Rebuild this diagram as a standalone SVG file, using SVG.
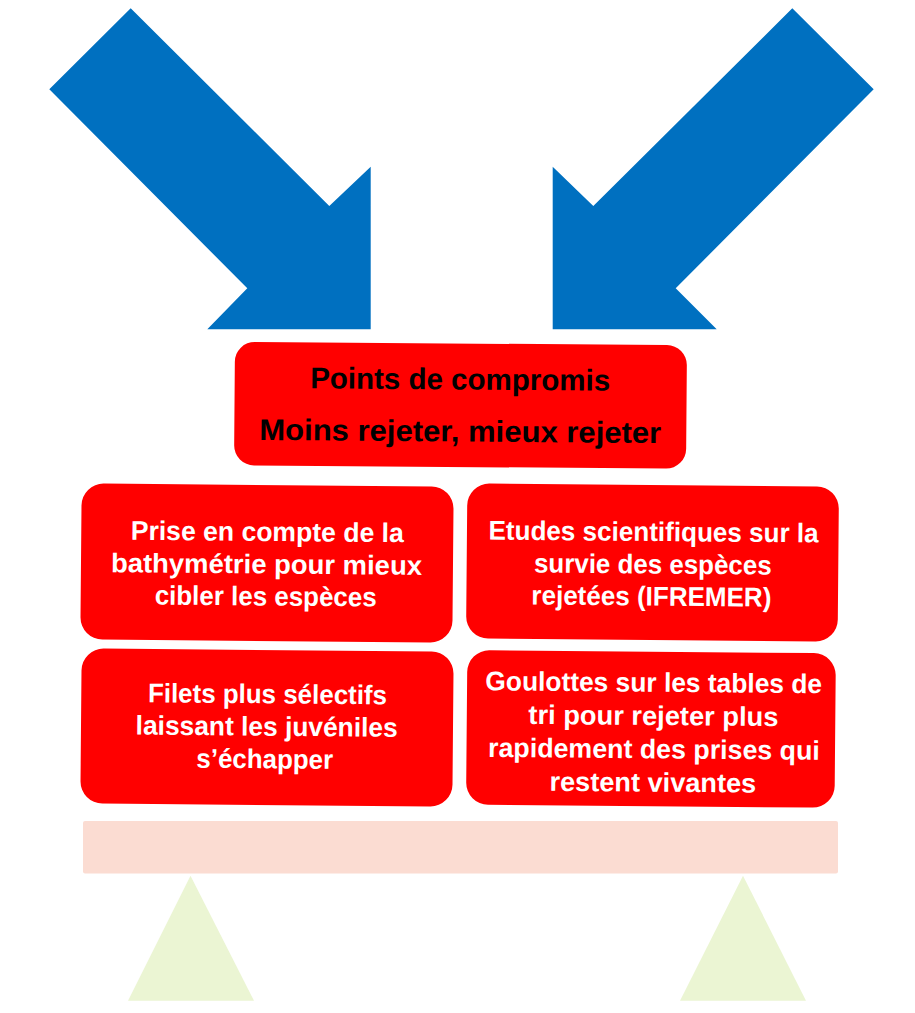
<svg xmlns="http://www.w3.org/2000/svg" width="915" height="1013" viewBox="0 0 915 1013">
<style>
.box{fill:#FF0000;}
.t{font-family:"Liberation Sans",Arial,sans-serif;font-weight:bold;}
.w{fill:#FFFFFF;font-size:27px;}
.b{fill:#000000;font-size:30px;}
.arrow{fill:#0070C0;}
.tri{fill:#EBF5D3;}
</style>
<rect width="915" height="1013" fill="#FFFFFF"/>
<g id="arrows">
<polygon class="arrow" points="130.7,8.3 49.3,89.3 247.3,288.3 207.3,329.3 370.7,329.3 370.7,166.7 329.3,206"/>
<polygon class="arrow" points="792.3,8.3 873.7,89.3 675.7,288.3 716.7,329.3 552.7,329.3 552.7,166.7 593.3,206"/>
</g>
<g id="node-top" transform="rotate(0.45 460.5 405.3)">
<rect class="box" x="234.5" y="343.5" width="452" height="123.5" rx="20"/>
<text class="t b" x="310" y="389.5" textLength="300" lengthAdjust="spacingAndGlyphs">Points de compromis</text>
<text class="t b" x="259.5" y="441.5" textLength="402" lengthAdjust="spacingAndGlyphs">Moins rejeter, mieux rejeter</text>
</g>
<g id="node-bathy" transform="rotate(0.5 267 563)">
<rect class="box" x="81" y="485" width="372" height="156" rx="22"/>
<text class="t w" x="130.5" y="541" textLength="273" lengthAdjust="spacingAndGlyphs">Prise en compte de la</text>
<text class="t w" x="111" y="573.5" textLength="311" lengthAdjust="spacingAndGlyphs">bathymétrie pour mieux</text>
<text class="t w" x="155" y="605.5" textLength="222" lengthAdjust="spacingAndGlyphs">cibler les espèces</text>
</g>
<g id="node-etudes" transform="rotate(0.5 652.5 562.5)">
<rect class="box" x="466.7" y="485" width="371.6" height="155" rx="22"/>
<text class="t w" x="488.3" y="541" textLength="330" lengthAdjust="spacingAndGlyphs">Etudes scientifiques sur la</text>
<text class="t w" x="534" y="573.5" textLength="237.7" lengthAdjust="spacingAndGlyphs">survie des espèces</text>
<text class="t w" x="531.7" y="605.5" textLength="240" lengthAdjust="spacingAndGlyphs">rejetées (IFREMER)</text>
</g>
<g id="node-filets" transform="rotate(0.5 267 727.5)">
<rect class="box" x="81" y="650" width="372" height="155" rx="22"/>
<text class="t w" x="147.7" y="703.3" textLength="239" lengthAdjust="spacingAndGlyphs">Filets plus sélectifs</text>
<text class="t w" x="135.7" y="735.7" textLength="262" lengthAdjust="spacingAndGlyphs">laissant les juvéniles</text>
<text class="t w" x="196.7" y="768.3" textLength="136.7" lengthAdjust="spacingAndGlyphs">s’échapper</text>
</g>
<g id="node-goulottes" transform="rotate(0.5 651 729)">
<rect class="box" x="466.7" y="651.7" width="368.5" height="154.5" rx="22"/>
<text class="t w" x="485" y="691.7" textLength="336.7" lengthAdjust="spacingAndGlyphs">Goulottes sur les tables de</text>
<text class="t w" x="528.3" y="725" textLength="250" lengthAdjust="spacingAndGlyphs">tri pour rejeter plus</text>
<text class="t w" x="488.3" y="758.3" textLength="331.7" lengthAdjust="spacingAndGlyphs">rapidement des prises qui</text>
<text class="t w" x="550" y="791.7" textLength="206.7" lengthAdjust="spacingAndGlyphs">restent vivantes</text>
</g>
<g id="balance">
<rect x="83" y="821" width="755" height="52.5" rx="2" fill="#FBDCD2"/>
<polygon class="tri" points="190.5,875.7 128,1000.7 254,1000.7"/>
<polygon class="tri" points="743,875.7 680,1000.7 806,1000.7"/>
</g>
</svg>
